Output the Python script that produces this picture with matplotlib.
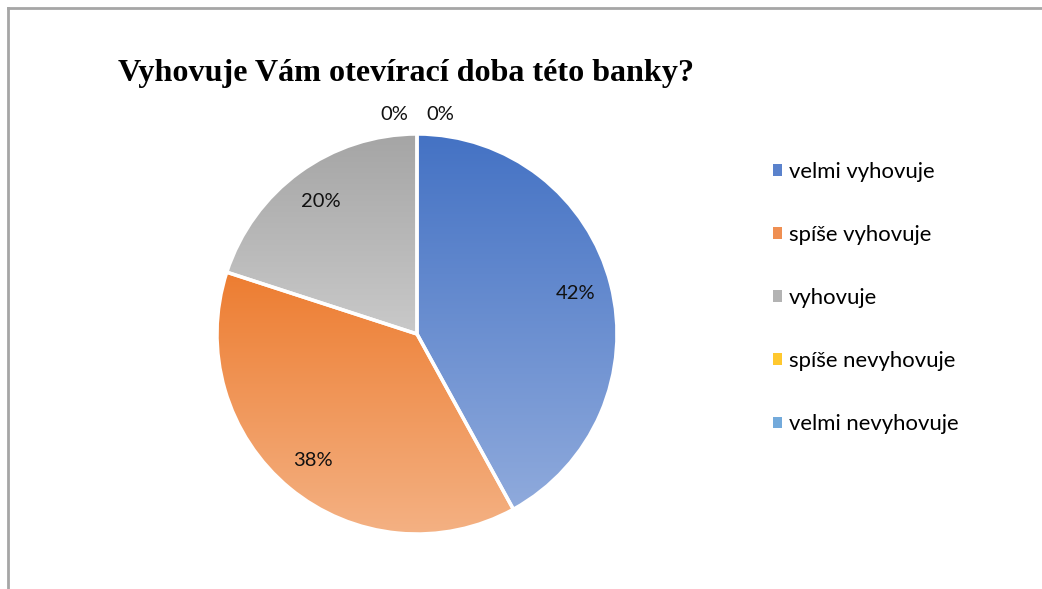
import numpy as np
import matplotlib.pyplot as plt
from matplotlib.colors import LinearSegmentedColormap
from matplotlib.lines import Line2D
from matplotlib.patches import Patch

categories = ["velmi vyhovuje", "spíše vyhovuje", "vyhovuje",
              "spíše nevyhovuje", "velmi nevyhovuje"]
shares = [42, 38, 20, 0, 0]
title = "Vyhovuje Vám otevírací doba této banky?"

# horní a dolní barva přechodu pro každou výseč
top_colors = ["#4472C4", "#ED7D31", "#A5A5A5", "#FFC000", "#5B9BD5"]
bottom_colors = ["#8FAADC", "#F4B183", "#C9C9C9", "#FFD966", "#9DC3E6"]
legend_colors = ["#5A82CC", "#EF8F52", "#B3B3B3", "#FFC82E", "#73AADB"]

fig = plt.figure(figsize=(10.42, 5.89), dpi=100)
ax = fig.add_axes([217 / 1042, 55 / 589, 400 / 1042, 400 / 589])

wedges, _ = ax.pie(shares, startangle=90, counterclock=False, radius=1,
                   colors=top_colors,
                   wedgeprops=dict(edgecolor="white", linewidth=2.5))

grad = np.linspace(0, 1, 256).reshape(-1, 1)
for w, c_top, c_bot, val in zip(wedges, top_colors, bottom_colors, shares):
    if val == 0:
        continue
    box = w.get_path().get_extents()
    cmap = LinearSegmentedColormap.from_list("g", [c_top, c_bot])
    img = ax.imshow(grad, cmap=cmap, aspect="auto", origin="upper",
                    extent=[box.x0, box.x1, box.y0, box.y1], zorder=1)
    img.set_clip_path(w)
    w.set_facecolor("none")
    w.set_zorder(2)

# popisky procent
zero_shift = -1
for w, val in zip(wedges, shares):
    ang = np.deg2rad((w.theta1 + w.theta2) / 2)
    if val == 0:
        x, y = 0.115 * zero_shift, 1.095
        zero_shift += 2
    else:
        x, y = 0.82 * np.cos(ang), 0.82 * np.sin(ang)
    ax.text(x, y, f"{val}%", ha="center", va="center", fontsize=14.5,
            family="Lato", color="#111111", zorder=3)

ax.set_xlim(-1, 1)
ax.set_ylim(-1, 1)
ax.set_aspect("equal")
ax.axis("off")

fig.text(118 / 1042, 1 - 74 / 589, title, ha="left", va="center",
         fontsize=23.1, fontweight="bold", family="Liberation Serif")

handles = [Patch(facecolor=c, edgecolor="none") for c in legend_colors]
fig.legend(handles, categories, loc="upper left",
           bbox_to_anchor=(753 / 1042, 1 - 142 / 589), frameon=False,
           prop=dict(family="Lato", size=15.9),
           handlelength=0.42, handleheight=0.42, handletextpad=0.3,
           labelspacing=1.95)

# okraj grafu
fig.add_artist(Line2D([8 / 1042, 1], [1 - 8 / 589, 1 - 8 / 589],
                      transform=fig.transFigure, color="#A6A6A6", lw=2))
fig.add_artist(Line2D([8 / 1042, 8 / 1042], [0, 1 - 8 / 589],
                      transform=fig.transFigure, color="#A6A6A6", lw=2))

fig.savefig("out.png", dpi=100)
